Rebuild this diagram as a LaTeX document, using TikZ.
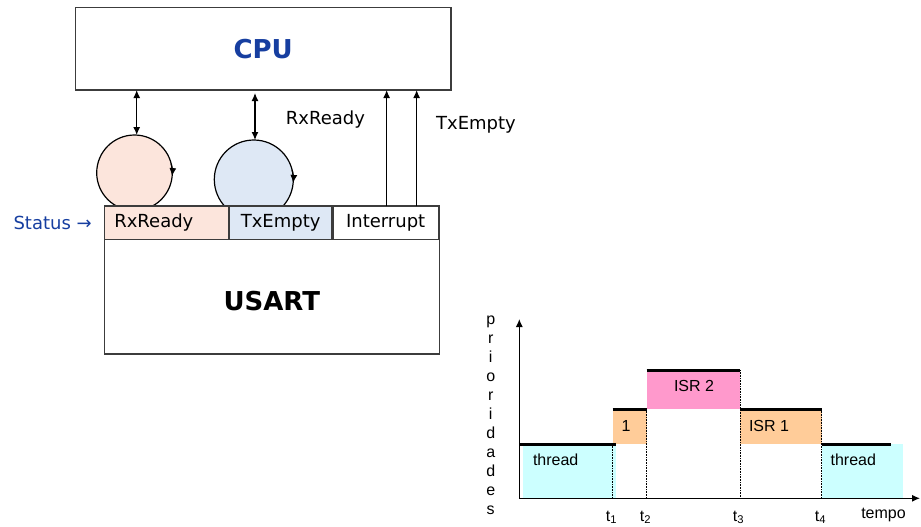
\documentclass[tikz,border=0pt]{standalone}
\usepackage{fontspec}
\setmainfont{DejaVu Sans}
\newfontfamily\chartfont{Liberation Sans}
\usetikzlibrary{arrows.meta}
\definecolor{cpublue}{RGB}{22,62,160}
\definecolor{edge}{RGB}{60,60,60}
\definecolor{rxfill}{RGB}{252,229,220}
\definecolor{txfill}{RGB}{222,232,245}
\definecolor{threadcyan}{RGB}{204,255,255}
\definecolor{isrorange}{RGB}{255,204,153}
\definecolor{isrpink}{RGB}{255,153,204}
\begin{document}
\begin{tikzpicture}[x=1pt,y=-1pt,
  box/.style={draw=edge, line width=1.3pt, inner sep=0pt, outer sep=0pt},
  cell/.style={box, minimum height=33.3pt, anchor=west, font=\fontsize{18}{20}\selectfont},
  sig/.style={line width=1.2pt, draw=black},
  tip/.style={-{Latex[length=8pt,width=7pt]}},
  dtip/.style={{Latex[length=8pt,width=7pt]}-{Latex[length=8pt,width=7pt]}},
  lbl/.style={font=\fontsize{18}{20}\selectfont},
  chart/.style={font=\chartfont\fontsize{16}{18}\selectfont},
  level/.style={line width=3pt, line cap=butt},
  mark line/.style={densely dotted, line width=0.6pt},
  ]
\useasboundingbox (0,0) rectangle (921,527);

% ---------- CPU / USART block diagram ----------
\node[box, minimum width=375.7pt, minimum height=82.7pt,
      font=\bfseries\fontsize{26}{28}\selectfont, text=cpublue]
  (cpu) at (263.2,48.7) {CPU};

% status flags drawn as circles (behind the status register)
\node[circle, draw=black, line width=1.2pt, fill=rxfill, minimum size=75.6pt, inner sep=0pt, outer sep=0pt]
  (rxcirc) at (134.5,172.8) {};
\node[circle, draw=black, line width=1.2pt, fill=txfill, minimum size=79pt, inner sep=0pt, outer sep=0pt]
  (txcirc) at (253.8,179.5) {};
% clockwise arrow tips on the circles
\draw[sig, tip] ([shift={(-14:37.8)}]rxcirc.center) arc (-14:5:37.8);
\draw[sig, tip] ([shift={(-14:39.5)}]txcirc.center) arc (-14:5:39.5);

% status register
\node[cell, fill=rxfill, text width=104.7pt, align=left, inner xsep=10pt]
  (rxcell) at (104.3,222.7) {RxReady};
\node[cell, fill=txfill, minimum width=103.3pt] (txcell) at (rxcell.east) {TxEmpty};
\node[cell, fill=white, minimum width=106.7pt] (intcell) at (txcell.east) {Interrupt};
\draw[draw=edge, line width=2.6pt] (txcell.north east) -- (txcell.south east);

\node[box, minimum width=335pt, minimum height=114.7pt, anchor=north west]
  (usart) at (rxcell.south west) {};
\node[font=\bfseries\fontsize{26}{28}\selectfont, yshift=-4pt] (usartlabel) at (usart.center) {USART};

\node[lbl, text=cpublue, anchor=west] (status) at (10,222.7) {Status →};

% connections between CPU and USART
\draw[sig, dtip] ([xshift=2.2pt]rxcirc.north |- cpu.south) -- ([xshift=2.2pt]rxcirc.north);
\draw[sig, dtip] ([xshift=1.2pt,yshift=-3pt]txcirc.north |- cpu.south) -- ([xshift=1.2pt]txcirc.north);
\draw[sig, tip] ([xshift=1pt]intcell.north) -- ([xshift=1pt]intcell.north |- cpu.south);
\draw[sig, tip] ([xshift=31pt]intcell.north) -- ([xshift=31pt]intcell.north |- cpu.south);

\node[lbl] (rxlabel) at (325.5,120) {RxReady};
\node[lbl] (txlabel) at (476,125) {TxEmpty};

% ---------- priority / time chart ----------
\coordinate (origin) at (519.3,498.3);
\coordinate (ytop) at (519.3,319);
\coordinate (xend) at (920,498.3);

\fill[threadcyan] (522.7,444) rectangle (615.7,498.3);
\fill[isrorange] (612.7,409) rectangle (646.7,444);
\fill[isrpink] (646.7,370) rectangle (740,409);
\fill[isrorange] (740,409) rectangle (821.7,444);
\fill[threadcyan] (821.7,444) rectangle (902.7,498.3);

\draw[mark line] (612.7,444) -- (612.7,498.3);
\draw[mark line] (646.7,409) -- (646.7,498.3);
\draw[mark line] (740,370) -- (740,498.3);
\draw[mark line] (821.7,409) -- (821.7,498.3);

\draw[level] (519.3,444) -- (616,444);
\draw[level] (612.7,409) -- (646.7,409);
\draw[level] (646.7,370) -- (740,370);
\draw[level] (740,409) -- (821.7,409);
\draw[level] (821.7,444) -- (890.7,444);

\draw[line width=1.2pt, tip] (origin) -- (ytop);
\draw[line width=1.2pt, tip] (origin) -- (xend);

\node[chart] (th1) at (555.7,459.5) {thread};
\node[chart] (isr1a) at (626,425.5) {1};
\node[chart] (isr2) at (694,386) {ISR 2};
\node[chart] (isr1b) at (769,425.5) {ISR 1};
\node[chart] (th2) at (853.3,459.5) {thread};

\foreach \ch [count=\i from 0] in {p,r,i,o,r,i,d,a,d,e,s}
  \node[chart, anchor=base, inner sep=0pt] (py\i) at (490.7,324+19*\i) {\ch};

\foreach \lab/\xx in {1/611.5, 2/645.5, 3/738.5, 4/820.5}
  \node[chart, anchor=base, inner sep=0pt] (t\lab) at (\xx,521) {t\textsubscript{\lab}};
\node[chart, anchor=base, inner sep=0pt] (tempo) at (883.5,518.5) {tempo};
\end{tikzpicture}
\end{document}
